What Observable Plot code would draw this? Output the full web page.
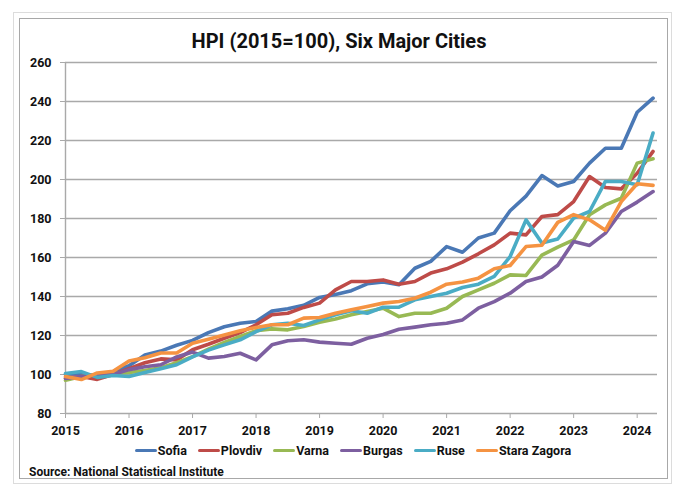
<!DOCTYPE html>
<html>
<head>
<meta charset="utf-8">
<script src="https://cdn.jsdelivr.net/npm/d3@7"></script>
<script src="https://cdn.jsdelivr.net/npm/@observablehq/plot@0.6"></script>
<style>
  html, body { margin: 0; padding: 0; background: #fff; }
  body { width: 678px; height: 494px; position: relative; overflow: hidden;
         font-family: "Liberation Sans Narrow", "Roboto", "Liberation Sans", sans-serif; }
  #outer { position: absolute; left: 13px; top: 12px; width: 659px; height: 472px; border: 1px solid #dcdcdc; box-sizing: border-box; }
  #inner { position: absolute; left: 19px; top: 18px; width: 649px; height: 461px; border: 1px solid #a8a8a8; box-sizing: border-box; }
  #title { position: absolute; left: 0; width: 678px; top: 29px; text-align: center; font-size: 20px; font-weight: bold; color: #111; }
  #chart { position: absolute; left: 0; top: 50px; }
  #legend { position: absolute; left: 14px; width: 678px; top: 443px; display: flex; justify-content: center; gap: 11px; font-size: 12.5px; font-weight: bold; color: #111; }
  #legend .item { display: flex; align-items: center; }
  #legend .sw { width: 22px; height: 3px; border-radius: 2px; margin-right: 1px; }
  #source { position: absolute; left: 29px; top: 465px; font-size: 12px; font-weight: bold; color: #111; }
</style>
</head>
<body>
<div id="outer"></div>
<div id="inner"></div>
<div id="title">HPI (2015=100), Six Major Cities</div>
<div id="chart"></div>
<div id="legend"></div>
<div id="source">Source: National Statistical Institute</div>
<script>
const cities = ["Sofia", "Plovdiv", "Varna", "Burgas", "Ruse", "Stara Zagora"];
const colors = ["#4a78b5", "#be4b48", "#98b954", "#7d5fa0", "#4aacc5", "#f59342"];
const yearTicks = [2015, 2016, 2017, 2018, 2019, 2020, 2021, 2022, 2023, 2024];
const yTicks = [80, 100, 120, 140, 160, 180, 200, 220, 240, 260];
// quarterly, 2015 Q1 .. 2024 Q2
const sofia = [100, 100.5, 98.5, 101.5, 104.5, 110, 112, 115, 117.5, 121.5, 124.5, 126.3, 127.2, 132.5, 133.7, 135.5, 139.5, 141, 143, 146.5, 147.5, 146, 154.5, 158, 165.6, 162.7, 170, 172.5, 184, 191.5, 202, 196.7, 199, 208.4, 216, 216, 234.5, 241.7];
const plovdiv = [98, 99, 97.5, 100, 103, 106, 108, 107.5, 112.7, 115.5, 118.6, 121.5, 125.5, 130.6, 131.4, 134.4, 136.6, 143.4, 147.7, 147.7, 148.5, 146.3, 147.7, 152, 154.2, 157.6, 161.9, 166.5, 172.5, 171.6, 181, 182, 188.7, 201.5, 195.9, 195.2, 203.2, 214.4];
const varna = [97, 99, 100, 100.5, 101, 102, 103.5, 106, 109.2, 113, 116.4, 119.5, 122.4, 123.4, 122.9, 124.6, 126.8, 128.5, 130.6, 132.3, 134, 129.7, 131.4, 131.4, 134, 140, 143.4, 146.8, 151.1, 150.8, 161.2, 165.3, 169, 181.9, 187, 190.4, 208.4, 210.6];
const burgas = [98, 99, 100, 100, 102.5, 104, 105, 109, 111.5, 108.4, 109.2, 110.9, 107.5, 115.2, 117.3, 117.8, 116.6, 116, 115.5, 118.6, 120.5, 123.2, 124.3, 125.5, 126.3, 128, 134, 137.4, 141.7, 147.7, 150, 156, 168.2, 166.2, 172.5, 183.6, 188.4, 193.8];
const ruse = [100.5, 101.5, 98.5, 99.5, 99, 101, 103, 105, 109, 112.5, 115.2, 117.8, 122, 125.5, 126.3, 125.1, 128, 130.6, 132.7, 131.4, 134.5, 134.5, 138.3, 140, 141.7, 144.6, 146.3, 150.3, 160.5, 179.3, 167.4, 169.5, 180.2, 183.6, 199, 199, 197.3, 223.8];
const staraZagora = [99, 97.4, 100.8, 101.7, 106.9, 108.6, 111, 111, 116, 118.1, 120.3, 122.4, 124.1, 125.5, 125.5, 128.9, 129.2, 131.4, 133.2, 134.9, 136.6, 137.4, 139.1, 142.2, 146.3, 147.4, 149.4, 154.2, 155.9, 165.6, 166.3, 178, 182, 179.3, 174, 188.7, 197.8, 197];

const series = [sofia, plovdiv, varna, burgas, ruse, staraZagora];
const rows = [];
series.forEach((vals, k) => vals.forEach((v, i) => rows.push({city: cities[k], t: 2015 + i * 0.25, v})));

const chart = Plot.plot({
  width: 678,
  height: 400,
  marginLeft: 65,
  marginRight: 21,
  marginTop: 12,
  marginBottom: 37,
  style: {fontFamily: '"Liberation Sans Narrow", "Roboto", "Liberation Sans", sans-serif', color: "#111", background: "transparent"},
  x: {domain: [2015, 2024.32], axis: null},
  y: {domain: [80, 260], axis: null},
  color: {domain: cities, range: colors},
  marks: [
    Plot.gridY(yTicks.filter(d => d > 80), {stroke: "#a9a9a9", strokeOpacity: 1, strokeWidth: 1.4}),
    Plot.ruleY([80], {stroke: "#a9a9a9", strokeWidth: 1.4}),
    Plot.ruleX([2015], {stroke: "#a9a9a9", strokeWidth: 1.4}),
    Plot.axisY(yTicks, {tickSize: 5, tickPadding: 9, fontSize: 12.5, fontWeight: "bold", stroke: "#a9a9a9", fill: "#111", label: null}),
    Plot.axisX(yearTicks, {tickSize: 5, tickPadding: 8, fontSize: 12.5, fontWeight: "bold", stroke: "#a9a9a9", fill: "#111", tickFormat: d => String(d), label: null}),
    Plot.line(rows, {x: "t", y: "v", z: "city", stroke: "city", strokeWidth: 3.6, strokeLinejoin: "round", strokeLinecap: "round"})
  ]
});
document.getElementById("chart").appendChild(chart);

const legend = document.getElementById("legend");
cities.forEach((c, k) => {
  const it = document.createElement("div");
  it.className = "item";
  it.innerHTML = `<span class="sw" style="background:${colors[k]}"></span><span>${c}</span>`;
  legend.appendChild(it);
});
</script>
</body>
</html>
